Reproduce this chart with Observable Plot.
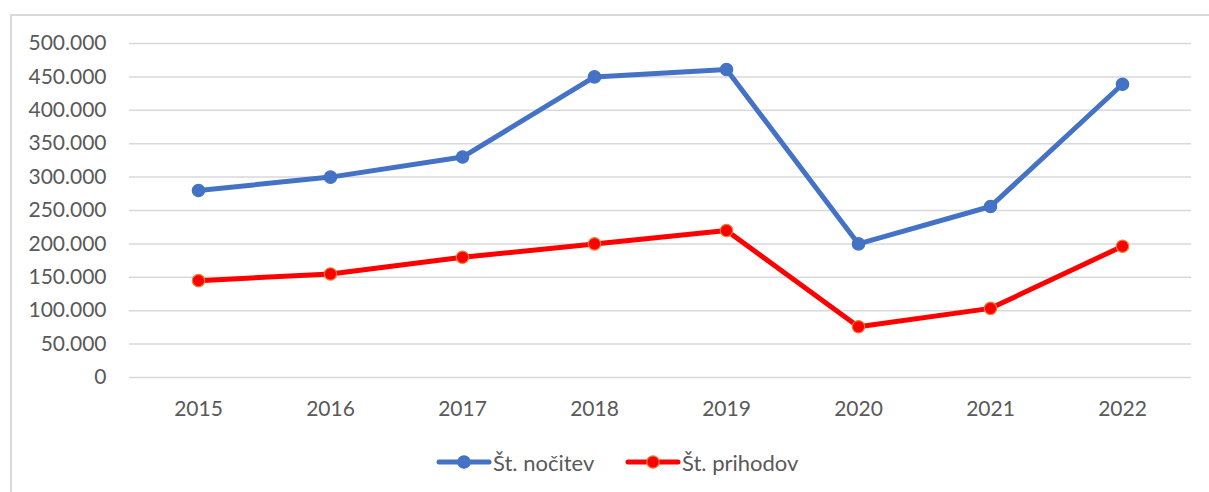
<!DOCTYPE html>
<html>
<head>
<meta charset="utf-8">
<script src="https://cdn.jsdelivr.net/npm/d3@7"></script>
<script src="https://cdn.jsdelivr.net/npm/@observablehq/plot@0.6"></script>
<style>
  html, body { margin: 0; padding: 0; background: #fff; }
  body { width: 1209px; height: 492px; position: relative; overflow: hidden; font-family: Lato, "Open Sans", sans-serif; }
  #frame { position: absolute; left: 10px; top: 14px; width: 1300px; height: 600px; border: 2px solid #d9d9d9; box-sizing: border-box; }
  #chart { position: absolute; left: 0; top: 0; }
  #legend { position: absolute; left: 0; top: 449px; width: 1209px; height: 26px; }
  .item { position: absolute; top: 0; height: 26px; display: flex; align-items: center; font-size: 22px; color: #595959; }
</style>
</head>
<body>
<div id="frame"></div>
<div id="chart"></div>
<div id="legend"></div>
<script>
const years = ["2015", "2016", "2017", "2018", "2019", "2020", "2021", "2022"];
const nocitev = [280000, 300000, 330000, 450000, 461000, 200000, 256000, 439000];
const prihodov = [145000, 155000, 180000, 200000, 220000, 76000, 103500, 196500];
const seriesNames = ["Št. nočitev", "Št. prihodov"];
const yTicks = [0, 50000, 100000, 150000, 200000, 250000, 300000, 350000, 400000, 450000, 500000];

const lineColors = ["#4472C4", "#FF0000"];
const dotFill = ["#4472C4", "#FF0000"];
const dotStroke = ["#4472C4", "#ED7D31"];

const data = [];
years.forEach((y, i) => data.push({year: y, value: nocitev[i], series: seriesNames[0]}));
years.forEach((y, i) => data.push({year: y, value: prihodov[i], series: seriesNames[1]}));

const locale = d3.formatLocale({decimal: ",", thousands: ".", grouping: [3], currency: ["", ""]});
const fmt = locale.format(",");

const chart = Plot.plot({
  width: 1209,
  height: 430,
  marginTop: 43,
  marginBottom: 53,
  marginLeft: 129,
  marginRight: 18,
  style: {fontFamily: "Lato, 'Open Sans', sans-serif", fontSize: "21px", color: "#595959", background: "transparent"},
  x: {type: "point", domain: years, padding: 0.5, label: null},
  y: {domain: [0, 500000], label: null},
  marks: [
    Plot.gridY(yTicks, {stroke: "#d9d9d9", strokeOpacity: 1, strokeWidth: 1.5}),
    Plot.axisY({ticks: yTicks, tickSize: 0, tickPadding: 23, tickFormat: fmt, fill: "#595959"}),
    Plot.axisX({tickSize: 0, tickPadding: 24, fill: "#595959"}),
    Plot.line(data, {x: "year", y: "value", z: "series", stroke: d => d.series === seriesNames[0] ? lineColors[0] : lineColors[1], strokeWidth: 5, strokeLinejoin: "round", strokeLinecap: "round"}),
    Plot.dot(data, {x: "year", y: "value", r: 6.2, fill: d => d.series === seriesNames[0] ? dotFill[0] : dotFill[1], stroke: d => d.series === seriesNames[0] ? dotStroke[0] : dotStroke[1], strokeWidth: 1.2})
  ]
});
document.getElementById("chart").appendChild(chart);

// legend
const legend = document.getElementById("legend");
const lefts = [436, 625];
seriesNames.forEach((name, i) => {
  const item = document.createElement("div");
  item.className = "item";
  item.style.left = lefts[i] + "px";
  item.innerHTML = `<svg width="56" height="26" style="display:block"><line x1="3" y1="13" x2="53" y2="13" stroke="${lineColors[i]}" stroke-width="5" stroke-linecap="round"/><circle cx="28" cy="13" r="6.2" fill="${dotFill[i]}" stroke="${dotStroke[i]}" stroke-width="1.2"/></svg><span style="margin-left:1px">${name}</span>`;
  legend.appendChild(item);
});
</script>
</body>
</html>
